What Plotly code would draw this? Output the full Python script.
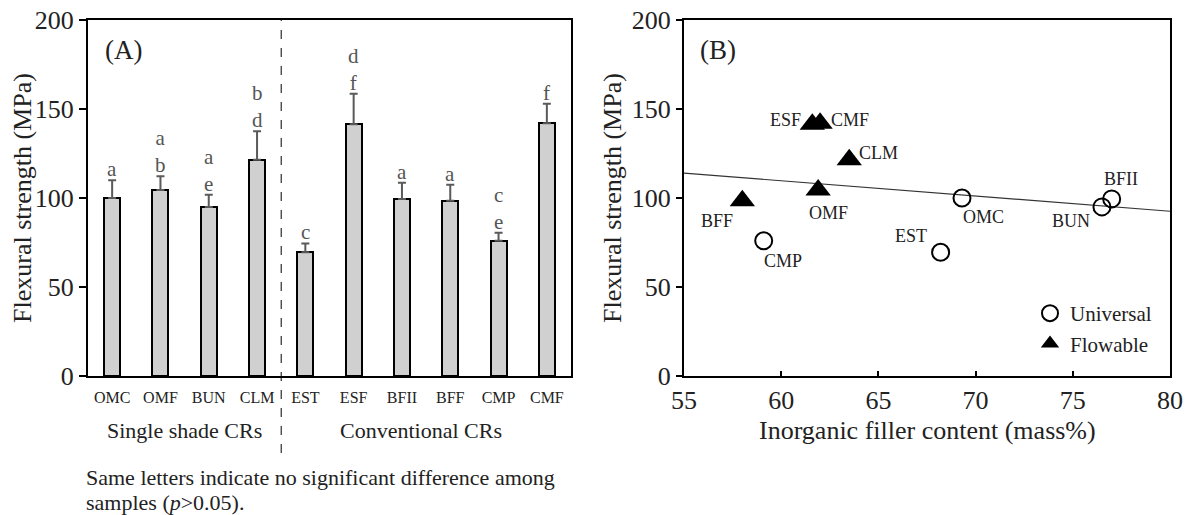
import numpy as np
import plotly.graph_objects as go

# ---------------- data ----------------
categories = ["OMC", "OMF", "BUN", "CLM", "EST", "ESF", "BFII", "BFF", "CMP", "CMF"]
strength = [100, 104.5, 95, 121.5, 69.5, 141.5, 99.5, 98.5, 76, 142]
strength_sd = [10, 7.7, 6.8, 16, 5, 17, 9, 9, 4.5, 11]
letters = [["a"], ["a", "b"], ["a", "e"], ["b", "d"], ["c"], ["d", "f"], ["a"], ["a"], ["c", "e"], ["f"]]
group_labels = ["Single shade CRs", "Conventional CRs"]

universal_names = ["OMC", "BUN", "EST", "BFII", "CMP"]
universal_filler = [69.3, 76.5, 68.2, 77.0, 59.1]
universal_strength = [100, 95, 69.5, 99.5, 76]

flowable_names = ["OMF", "CLM", "ESF", "BFF", "CMF"]
flowable_filler = [61.9, 63.5, 61.6, 58.0, 62.0]
flowable_strength = [104.5, 121.5, 141.5, 98.5, 142]

W, H = 1188, 515
FONT = "Liberation Serif, Times New Roman, serif"
TXT = "#222"


def px_x(p):
    return p / W


def px_y(p):
    return (H - p) / H


def paper_text(text, x, y, size, xanchor="center", angle=0):
    fig.add_annotation(x=px_x(x), y=px_y(y), xref="paper", yref="paper", text=text,
                       showarrow=False, xanchor=xanchor, yanchor="middle",
                       textangle=angle, font=dict(family=FONT, size=size, color=TXT))


fig = go.Figure()

# ---------------- panel A ----------------
fig.add_trace(go.Bar(
    x=categories, y=strength, width=0.33,
    marker=dict(color="#d0d0d0", line=dict(color="black", width=2)),
    error_y=dict(type="data", array=strength_sd, arrayminus=[0] * len(strength_sd),
                 symmetric=False, color="#5a5a5a", thickness=2, width=4),
    showlegend=False, xaxis="x", yaxis="y",
))

for cat, v, sd, let in zip(categories, strength, strength_sd, letters):
    fig.add_annotation(x=cat, y=v + sd, xref="x", yref="y", text="<br>".join(let),
                       showarrow=False, yanchor="bottom", yshift=-3,
                       font=dict(family=FONT, size=21, color="#555555"))

# group separator
fig.add_shape(type="line", xref="x", yref="paper", x0=3.5, x1=3.5,
              y0=px_y(453), y1=px_y(20), line=dict(color="black", width=1, dash="dash"))

for lab, xc in zip(group_labels, [1.5, 6.4]):
    fig.add_annotation(x=xc, y=px_y(430), xref="x", yref="paper", text=lab,
                       showarrow=False, xanchor="center", yanchor="middle",
                       font=dict(family=FONT, size=22, color=TXT))

paper_text("Same letters indicate no significant difference among", 84, 477, 22, "left")
paper_text("samples (<i>p</i>>0.05).", 84, 502, 22, "left")
paper_text("(A)", 103, 50, 27, "left")
paper_text("Flexural strength (MPa)", 22, 198, 26, "center", -90)

# ---------------- panel B ----------------
slope, intercept = np.polyfit(universal_filler + flowable_filler,
                              universal_strength + flowable_strength, 1)
xfit = np.array([55, 80])
fig.add_trace(go.Scatter(x=xfit, y=slope * xfit + intercept, mode="lines",
                         line=dict(color="#333", width=1.2), showlegend=False,
                         xaxis="x2", yaxis="y2", hoverinfo="skip"))

fig.add_trace(go.Scatter(x=universal_filler, y=universal_strength, mode="markers",
                         name="Universal",
                         marker=dict(symbol="circle-open", size=17, color="black",
                                     line=dict(width=2, color="black")),
                         xaxis="x2", yaxis="y2"))
fig.add_trace(go.Scatter(x=flowable_filler, y=flowable_strength, mode="markers",
                         name="Flowable",
                         marker=dict(symbol="triangle-up", size=22, color="black"),
                         xaxis="x2", yaxis="y2"))

label_offsets = {
    "CMP": (19, -20), "BFF": (-25, -20), "OMF": (10, -23), "ESF": (-27, 4),
    "CMF": (30, 3), "CLM": (29, 7), "OMC": (22, -19), "EST": (-30, 16),
    "BUN": (-31, -14), "BFII": (9, 20),
}
for names, xs, ys in [(universal_names, universal_filler, universal_strength),
                      (flowable_names, flowable_filler, flowable_strength)]:
    for n, xv, yv in zip(names, xs, ys):
        dx, dy = label_offsets[n]
        fig.add_annotation(x=xv, y=yv, xref="x2", yref="y2", text=n, showarrow=False,
                           xshift=dx, yshift=dy, xanchor="center", yanchor="middle",
                           font=dict(family=FONT, size=18, color=TXT))

paper_text("(B)", 698, 50, 27, "left")
paper_text("Flexural strength (MPa)", 612, 198, 26, "center", -90)
paper_text("Inorganic filler content (mass%)", 927, 430, 26, "center")

axis_common = dict(showline=True, linecolor="black", linewidth=2, mirror=True,
                   showgrid=False, zeroline=False, automargin=False,
                   tickfont=dict(family=FONT, size=26, color=TXT))

fig.update_layout(
    width=W, height=H, margin=dict(l=0, r=0, t=0, b=0, autoexpand=False),
    paper_bgcolor="white", plot_bgcolor="white",
    font=dict(family=FONT, color=TXT),
    bargap=0,
    xaxis=dict(axis_common, domain=[px_x(88), px_x(571)], anchor="y",
               ticks="", range=[-0.5, 9.5], ticklabelstandoff=6,
               tickfont=dict(family=FONT, size=16, color=TXT)),
    yaxis=dict(axis_common, domain=[px_y(376), px_y(20)], anchor="x",
               range=[0, 200], dtick=50, ticks="outside", ticklen=7, tickwidth=2,
               tickcolor="black"),
    xaxis2=dict(axis_common, domain=[px_x(684), px_x(1170)], anchor="y2",
                range=[55, 80], dtick=5, ticks="inside", ticklen=5, tickwidth=2,
                tickcolor="black"),
    yaxis2=dict(axis_common, domain=[px_y(376), px_y(20)], anchor="x2",
                range=[0, 200], dtick=50, ticks="outside", ticklen=6, tickwidth=2,
                tickcolor="black"),
    legend=dict(x=px_x(1030), y=px_y(293), xanchor="left", yanchor="top",
                bgcolor="rgba(0,0,0,0)", font=dict(family=FONT, size=21, color=TXT),
                itemsizing="trace", tracegroupgap=0),
)

fig.write_html("out.html", config={"displayModeBar": False},
               post_script="document.body.style.margin='0';document.body.style.overflow='hidden';")
